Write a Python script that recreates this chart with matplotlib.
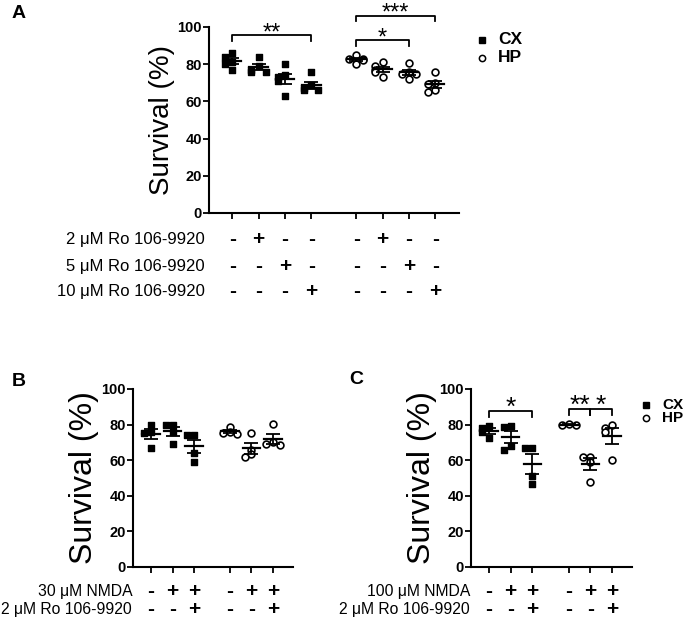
import numpy as np
import matplotlib
matplotlib.use("Agg")
import matplotlib.pyplot as plt
from matplotlib.transforms import offset_copy

plt.rcParams['font.family'] = ['Liberation Sans', 'DejaVu Sans']

W, H = 685, 622

# ---- data ----
a_cx = [[86, 84, 81, 80, 77], [84, 79, 77, 76, 76], [80, 74, 73, 71, 63], [76, 69, 67, 66, 66]]
a_hp = [[85, 83, 83, 82.5, 80], [81, 79, 77, 76, 73], [80.5, 76, 75, 75, 72], [76, 70, 69.5, 66, 65]]
a_rows = ['2 \u03bcM Ro 106-9920', '5 \u03bcM Ro 106-9920', '10 \u03bcM Ro 106-9920']
a_signs = [['-', '+', '-', '-'], ['-', '-', '+', '-'], ['-', '-', '-', '+']]

b_cx = [[80, 76, 75.5, 67], [80, 80, 76, 69], [74, 74, 64, 59]]
b_hp = [[78.5, 76, 75.5, 75], [75.5, 66, 63.5, 62], [80.5, 70, 69, 68.5]]
b_rows = ['30 \u03bcM NMDA', '2 \u03bcM Ro 106-9920']

c_cx = [[79, 78, 76, 72.5], [79, 78.5, 68, 66], [67, 67, 51, 46.5]]
c_hp = [[80.5, 80, 79.5], [62, 62, 59, 48], [79.5, 78, 76, 60]]
c_rows = ['100 \u03bcM NMDA', '2 \u03bcM Ro 106-9920']
bc_signs = [['-', '+', '+'], ['-', '-', '+']]


def px(x, y):
    return x / W, 1 - y / H


def make_ax(fig, left, right, top, bottom):
    l, b = px(left, bottom)
    ax = fig.add_axes([l, b, (right - left) / W, (bottom - top) / H])
    ax.set_ylim(0, 100)
    ax.set_yticks([0, 20, 40, 60, 80, 100])
    for s in ['top', 'right']:
        ax.spines[s].set_visible(False)
    for s in ['left', 'bottom']:
        ax.spines[s].set_linewidth(1.5)
    ax.tick_params(width=1.3, length=4, labelsize=10.5, pad=1)
    for t in ax.get_yticklabels():
        t.set_fontweight('bold')
    return ax


def offsets(vals, step):
    placed = []
    offs = []
    pattern = [0, -1, 1, -2, 2]
    for v in vals:
        n = sum(1 for p in placed if abs(p - v) < 2.5)
        offs.append(pattern[min(n, 4)] * step)
        placed.append(v)
    return offs


def draw_group(ax, x, vals, filled, step=0.27, mw=0.35):
    offs = offsets(vals, step)
    xs = [x + o for o in offs]
    if filled:
        ax.scatter(xs, vals, marker='s', s=24, c='black', zorder=3, clip_on=False)
    else:
        ax.scatter(xs, vals, marker='o', s=24, facecolors='white', edgecolors='black',
                   linewidths=1.2, zorder=3, clip_on=False)
    m = np.mean(vals)
    sem = np.std(vals, ddof=1) / np.sqrt(len(vals))
    ax.plot([x - mw, x + mw], [m, m], color='black', lw=1.6, zorder=4)
    ax.errorbar([x], [m], yerr=[sem], color='black', lw=1.3, capsize=5, capthick=1.3, zorder=4)


def bracket(ax, x1, x2, y, drop, label, fs=17):
    ax.plot([x1, x1, x2, x2], [y - drop, y, y, y - drop], color='black', lw=1.3, clip_on=False)
    tr = offset_copy(ax.transData, fig=ax.figure, y=-3, units='points')
    ax.text((x1 + x2) / 2, y, label, transform=tr, ha='center', va='baseline',
            fontsize=fs, clip_on=False)


def sign_rows(ax, xs, rows, signs, ys, lx, fs):
    tr = ax.get_xaxis_transform()
    for r, lab in enumerate(rows):
        ax.text(lx, ys[r], lab, transform=ax.transAxes, ha='right', va='center', fontsize=fs)
        for x, s in zip(xs, signs[r] + signs[r]):
            ax.text(x, ys[r], s, transform=tr, ha='center', va='center', fontsize=15,
                    fontweight='bold')


def legend(fig, x, y1, y2, fs):
    fig.add_artist(plt.Line2D([x / W], [1 - y1 / H], marker='s', ms=4.5, color='black', ls=''))
    fig.add_artist(plt.Line2D([x / W], [1 - y2 / H], marker='o', ms=4.5, mfc='white',
                              mec='black', mew=1.1, ls=''))
    fig.text(*px(x + 16, y1), 'CX', ha='left', va='center', fontsize=fs, fontweight='bold')
    fig.text(*px(x + 16, y2), 'HP', ha='left', va='center', fontsize=fs, fontweight='bold')


fig = plt.figure(figsize=(W / 100, H / 100), dpi=100)

# ---- panel A ----
axA = make_ax(fig, 209, 459, 27, 213)
xa = [0, 1, 2, 3, 4.7, 5.7, 6.7, 7.7]
axA.set_xlim(-0.88, 8.6)
axA.set_xticks(xa)
axA.set_xticklabels([])
for i in range(4):
    draw_group(axA, xa[i], a_cx[i], True)
    draw_group(axA, xa[i + 4], a_hp[i], False)
bracket(axA, xa[0], xa[3], 95.5, 3, '**')
bracket(axA, xa[4], xa[7], 106, 3, '***')
bracket(axA, xa[4], xa[6], 92.8, 3, '*')
axA.set_ylabel('Survival (%)', fontsize=20, labelpad=2)
sign_rows(axA, xa, a_rows, a_signs, [-0.14, -0.285, -0.42], -0.016, 12)
legend(fig, 482, 40, 58, 12.5)
fig.text(*px(12, 14), 'A', ha='left', va='center', fontsize=14, fontweight='bold')

# ---- panel B ----
axB = make_ax(fig, 133, 293, 389, 567)
xb = [0, 1, 2, 3.67, 4.67, 5.67]
axB.set_xlim(-0.84, 6.6)
axB.set_xticks(xb)
axB.set_xticklabels([])
for i in range(3):
    draw_group(axB, xb[i], b_cx[i], True, step=0.32, mw=0.4)
    draw_group(axB, xb[i + 3], b_hp[i], False, step=0.32, mw=0.4)
axB.set_ylabel('Survival (%)', fontsize=23, labelpad=2)
sign_rows(axB, xb, b_rows, bc_signs, [-0.14, -0.24], -0.005, 11.3)
fig.text(*px(12, 381), 'B', ha='left', va='center', fontsize=14, fontweight='bold')

# ---- panel C ----
axC = make_ax(fig, 471, 632, 389, 567)
xc = [0, 1, 2, 3.69, 4.67, 5.67]
axC.set_xlim(-0.83, 6.59)
axC.set_xticks(xc)
axC.set_xticklabels([])
for i in range(3):
    draw_group(axC, xc[i], c_cx[i], True, step=0.32, mw=0.4)
    draw_group(axC, xc[i + 3], c_hp[i], False, step=0.32, mw=0.4)
bracket(axC, xc[0], xc[2], 87.6, 3.5, '*', fs=19)
bracket(axC, xc[3], xc[4], 88.8, 3.5, '**', fs=19)
bracket(axC, xc[4], xc[5], 88.8, 3.5, '*', fs=19)
axC.set_ylabel('Survival (%)', fontsize=23, labelpad=2)
sign_rows(axC, xc, c_rows, bc_signs, [-0.14, -0.24], -0.005, 11.3)
legend(fig, 646, 405, 418, 11)
fig.text(*px(349, 380), 'C', ha='left', va='center', fontsize=14, fontweight='bold')

fig.savefig('out.png', dpi=100)
